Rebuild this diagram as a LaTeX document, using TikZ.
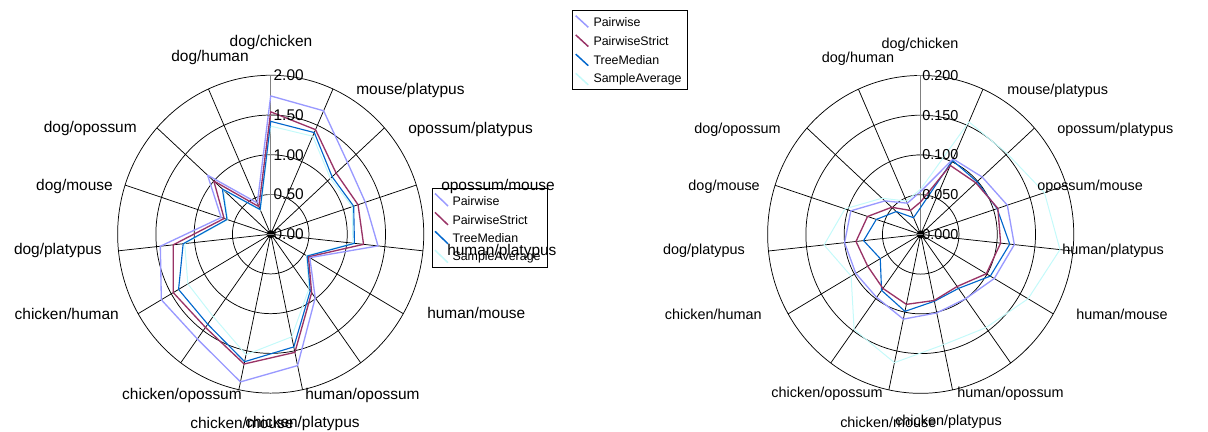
\documentclass[tikz,border=0pt]{standalone}
\usepackage{fontspec}
\setmainfont{Liberation Sans}
\definecolor{pwlav}{RGB}{153,153,255}
\definecolor{psred}{RGB}{153,51,102}
\definecolor{tmblue}{RGB}{0,102,204}
\definecolor{sacyan}{RGB}{196,250,250}
\definecolor{axisgray}{RGB}{128,128,128}

\tikzset{
  grid line/.style={draw=black, line width=0.55pt},
  axis line/.style={draw=axisgray, line width=0.75pt},
  pairwise/.style={draw=pwlav, line width=1pt, line join=round},
  pairstrict/.style={draw=psred, line width=1pt, line join=round},
  treemedian/.style={draw=tmblue, line width=0.85pt, line join=round},
  sampleavg/.style={draw=sacyan, line width=0.75pt, line join=round},
  left label/.style={inner sep=0pt, font=\fontsize{11.6}{13}\selectfont},
  right label/.style={inner sep=0pt, font=\fontsize{10.8}{12}\selectfont},
  legend box/.style={draw=black, fill=white, line width=0.55pt},
  legend text/.style={inner sep=0pt, anchor=west, font=\fontsize{9.3}{11}\selectfont},
  legend line/.style={line width=1.1pt},
}

% one closed series: style, rings per unit, 15 values clockwise from the top
\newcommand{\radarseries}[3]{%
  \foreach \v [count=\i from 0] in {#3}
    \coordinate (s\i) at (-90+24*\i:#2*\v);
  \draw[#1] (s0) \foreach \i in {1,...,14} {-- (s\i)} -- cycle;
}

\begin{document}
\begin{tikzpicture}[x=0.75pt,y=0.75pt,yscale=-1,xscale=1]
\useasboundingbox (0,0) rectangle (1208,432);

%Chart: left radar
\begin{scope}[shift={(270.7,234.2)},x=28.7pt,y=29.8pt]
  \foreach \k in {1,...,4} \draw[grid line] (0,0) circle (\k);
  \foreach \i in {1,...,14} \draw[grid line] (0,0) -- (-90+24*\i:4);
  \draw[axis line] (0,0) -- (-90:4);
  \radarseries{sampleavg}{2}{1.36,1.35,1.05,1.12,1.08,0.54,0.85,1.32,1.55,1.28,1.25,1.13,0.59,0.83,0.33}
  \radarseries{treemedian}{2}{1.42,1.40,1.08,1.14,1.10,0.55,0.88,1.45,1.64,1.40,1.39,1.15,0.60,0.85,0.34}
  \radarseries{pairstrict}{2}{1.54,1.44,1.15,1.20,1.22,0.57,0.91,1.52,1.67,1.45,1.47,1.28,0.64,1.00,0.38}
  \radarseries{pairwise}{2}{1.74,1.70,1.35,1.30,1.41,0.59,0.99,1.69,1.90,1.63,1.65,1.45,0.68,1.11,0.43}
  \fill (0,0) circle (3pt);
\end{scope}

%Legend: inside the left chart
\draw[legend box] (432,188) rectangle (547,267);
\foreach \name/\col [count=\j from 0] in {Pairwise/pwlav,PairwiseStrict/psred,TreeMedian/tmblue,SampleAverage/sacyan}{
  \draw[legend line, draw=\col] (435,193.5+18.9*\j) -- ++(13,12.5);
  \node[legend text] (lgA\j) at (452.3,200.7+18.9*\j) {\name};
}

% Text Node: left categories
\node[left label] (l0) at (271,43) {dog/chicken};
\node[left label, anchor=west] (l1) at (356,90) {mouse/platypus};
\node[left label, anchor=west] (l2) at (408,129) {opossum/platypus};
\node[left label, anchor=west] (l3) at (441,186) {opossum/mouse};
\node[left label, anchor=west] (l4) at (447,251) {human/platypus};
\node[left label, anchor=west] (l5) at (427,313) {human/mouse};
\node[left label, anchor=west] (l6) at (305,395) {human/opossum};
\node[left label, anchor=west] (l7) at (245,423) {chicken/platypus};
\node[left label, anchor=west] (l8) at (190,423) {chicken/mouse};
\node[left label, anchor=east] (l9) at (242,395) {chicken/opossum};
\node[left label, anchor=east] (l10) at (119,314) {chicken/human};
\node[left label, anchor=east] (l11) at (102,250) {dog/platypus};
\node[left label, anchor=east] (l12) at (113,186) {dog/mouse};
\node[left label, anchor=east] (l13) at (137,128) {dog/opossum};
\node[left label] (l14) at (210,58) {dog/human};

% Text Node: left value axis
\begin{scope}[shift={(270.7,234.2)},x=28.7pt,y=29.8pt]
  \foreach \k/\val in {0/0.00,1/0.50,2/1.00,3/1.50,4/2.00}{
    \draw[axis line] (0,-\k) ++(-3pt,0) -- ++(8pt,0);
    \node[left label, anchor=west] (la\k) at ([xshift=2pt]0,-\k) {\val};
  }
\end{scope}

%Chart: right radar
\begin{scope}[shift={(920.7,234.4)},x=28.7pt,y=29.8pt]
  \foreach \k in {1,...,4} \draw[grid line] (0,0) circle (\k);
  \foreach \i in {1,...,14} \draw[grid line] (0,0) -- (-90+24*\i:4);
  \draw[axis line] (0,0) -- (-90:4);
  \radarseries{sampleavg}{20}{0.057,0.155,0.152,0.170,0.183,0.162,0.145,0.142,0.165,0.148,0.105,0.127,0.104,0.068,0.046}
  \radarseries{treemedian}{20}{0.034,0.102,0.099,0.105,0.117,0.105,0.084,0.086,0.099,0.087,0.061,0.075,0.061,0.043,0.023}
  \radarseries{pairstrict}{20}{0.041,0.095,0.097,0.106,0.105,0.099,0.081,0.085,0.090,0.084,0.080,0.085,0.073,0.051,0.033}
  \radarseries{pairwise}{20}{0.054,0.104,0.108,0.119,0.123,0.111,0.100,0.101,0.109,0.098,0.098,0.100,0.096,0.063,0.043}
  \fill (0,0) circle (3pt);
  \foreach \k/\val in {0/0.000,1/0.050,2/0.100,3/0.150,4/0.200}{
    \draw[axis line] (0,-\k) ++(-3pt,0) -- ++(8pt,0);
    \node[right label, anchor=west] (ra\k) at ([xshift=1pt]0,-\k) {\val};
  }
\end{scope}

% Text Node: right categories
\node[right label] (r0) at (920,45) {dog/chicken};
\node[right label, anchor=west] (r1) at (1007,91) {mouse/platypus};
\node[right label, anchor=west] (r2) at (1057,130) {opossum/platypus};
\node[right label, anchor=west] (r3) at (1037,187) {opossum/mouse};
\node[right label, anchor=west] (r4) at (1062,251) {human/platypus};
\node[right label, anchor=west] (r5) at (1076,314) {human/mouse};
\node[right label, anchor=west] (r6) at (957,394) {human/opossum};
\node[right label, anchor=east] (r7) at (1002,422) {chicken/platypus};
\node[right label, anchor=west] (r8) at (840,422) {chicken/mouse};
\node[right label, anchor=east] (r9) at (883,394) {chicken/opossum};
\node[right label, anchor=east] (r10) at (762,314) {chicken/human};
\node[right label, anchor=east] (r11) at (745,251) {dog/platypus};
\node[right label, anchor=east] (r12) at (760,187) {dog/mouse};
\node[right label, anchor=east] (r13) at (781,130) {dog/opossum};
\node[right label] (r14) at (858,59) {dog/human};

%Legend: top
\draw[legend box] (572,10) rectangle (687,89);
\foreach \name/\col [count=\j from 0] in {Pairwise/pwlav,PairwiseStrict/psred,TreeMedian/tmblue,SampleAverage/sacyan}{
  \draw[legend line, draw=\col] (575.7,15.7+19.2*\j) -- ++(12.6,11.6);
  \node[legend text] (lgB\j) at (593.3,21.7+19.2*\j) {\name};
}

\end{tikzpicture}
\end{document}
